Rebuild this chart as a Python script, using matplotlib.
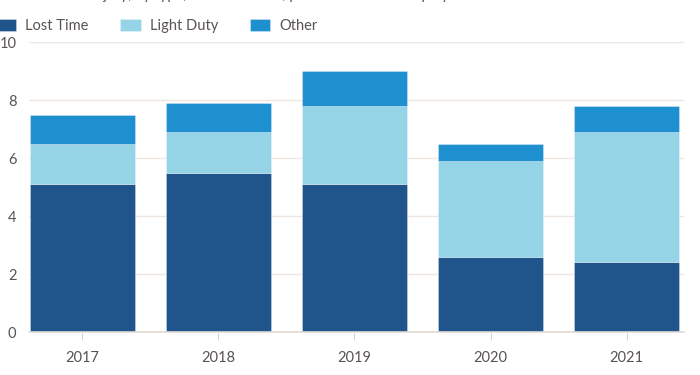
import numpy as np
import matplotlib
matplotlib.use("Agg")
import matplotlib.pyplot as plt

# ── Data ──────────────────────────────────────────────────────────────────────
years = ["2017", "2018", "2019", "2020", "2021"]
lost_time = [5.1, 5.5, 5.1, 2.6, 2.4]
light_duty = [1.4, 1.4, 2.7, 3.3, 4.5]
other = [1.0, 1.0, 1.2, 0.6, 0.9]
series_names = ["Lost Time", "Light Duty", "Other"]
y_ticks = [0, 2, 4, 6, 8, 10]

colors = ["#20558b", "#95d3e6", "#1e8fcf"]
text_color = "#595452"
grid_color = "#eee6e0"

plt.rcParams["font.family"] = ["Lato", "DejaVu Sans"]

fig = plt.figure(figsize=(7.0, 3.75), dpi=100)
ax = fig.add_axes([29 / 700, 43 / 375, 655 / 700, 290 / 375])

x = np.arange(len(years))
width = 0.77
bottoms = np.zeros(len(years))
handles = []
for vals, col, name in zip([lost_time, light_duty, other], colors, series_names):
    b = ax.bar(x, vals, width, bottom=bottoms, color=col, label=name,
               edgecolor=(1, 1, 1, 0.35), linewidth=0.6, zorder=2)
    handles.append(b)
    bottoms = bottoms + np.array(vals)

ax.set_xlim(-0.39, 4.42)
ax.set_ylim(0, 10)
ax.set_yticks(y_ticks)
ax.set_xticks(x)
ax.set_xticklabels(years)
ax.grid(axis="y", color=grid_color, linewidth=1.0, zorder=0)
ax.set_axisbelow(True)

for side in ("top", "right", "left"):
    ax.spines[side].set_visible(False)
ax.spines["bottom"].set_color("#e2dad5")
ax.spines["bottom"].set_linewidth(1.2)

ax.tick_params(axis="y", length=0, pad=9, labelsize=10.5, labelcolor=text_color)
ax.tick_params(axis="x", length=6, width=0.8, color="#d9d2cd", pad=8,
               labelsize=10.5, labelcolor=text_color)

# Subtitle, cropped at the top edge in the original
fig.text(-0.005, 1.014, "Annual rate of injury, by type, at US facilities, per 200 full-time employees.",
         fontsize=10.5, color=text_color, ha="left", va="center")

fig.legend(handles=handles, labels=series_names, loc="center left",
           bbox_to_anchor=(-0.006, 1 - 26 / 375), ncol=3, frameon=False,
           fontsize=10.5, labelcolor=text_color, handlelength=1.4, handleheight=0.85,
           handletextpad=0.6, columnspacing=2.2, borderaxespad=0, borderpad=0)

fig.savefig("out.png", dpi=100)
